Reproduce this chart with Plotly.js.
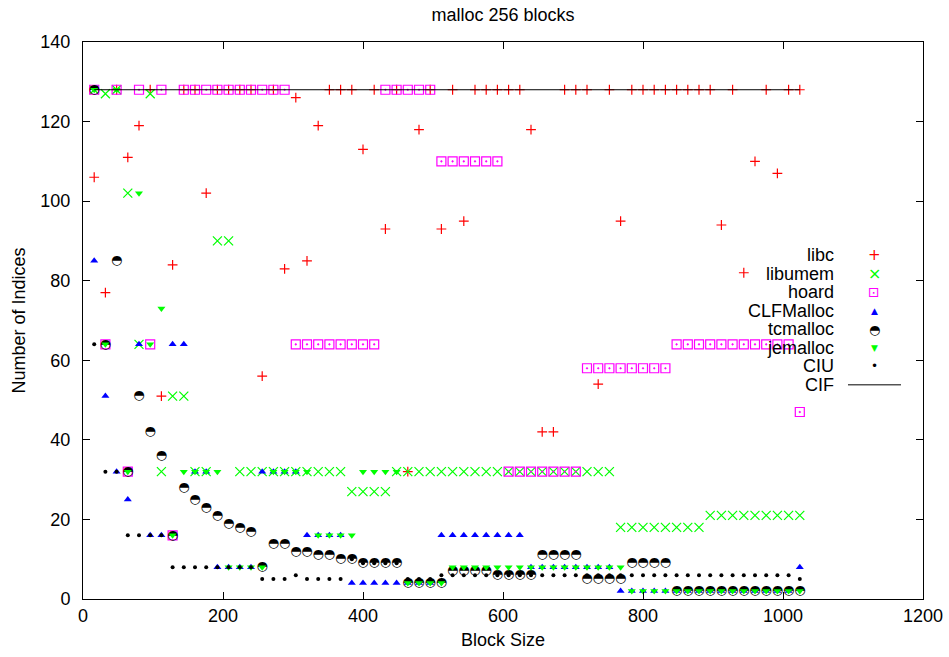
<!DOCTYPE html>
<html><head><meta charset="utf-8">
<script src="https://cdn.plot.ly/plotly-3.0.1.min.js"></script>
<style>html,body{margin:0;padding:0;background:#fff}#chart{width:949px;height:657px}</style>
</head><body><div id="chart"></div>
<script>
// Block sizes (bytes)
const blockSize = [16,32,48,64,80,96,112,128,144,160,176,192,208,224,240,256,
  272,288,304,320,336,352,368,384,400,416,432,448,464,480,496,512,
  528,544,560,576,592,608,624,640,656,672,688,704,720,736,752,768,
  784,800,816,832,848,864,880,896,912,928,944,960,976,992,1008,1024];

const libc = [106,77,128,111,119,128,51,84,128,128, 102,128,128,128,128,56,128,83,126,85,
  119,128,128,128,113,128,93,128,32,118, 128,93,128,95,128,128,128,128,128,118,
  42,42,128,128,128,54,128,95,128,128, 128,128,128,128,128,128,94,128,82,110,
  128,107,128,128];

const libumem = [128,127,128,102,64,127,32,51,51,32, 32,90,90,32,32,32,32,32,32,32,
  32,32,32,27,27,27,27,32,32,32, 32,32,32,32,32,32,32,32,32,32,
  32,32,32,32,32,32,32,18,18,18, 18,18,18,18,18,21,21,21,21,21,
  21,21,21,21];

const hoard = [128,64,128,32,128,64,128,16,128,128, 128,128,128,128,128,128,128,128,64,64,
  64,64,64,64,64,64,128,128,128,128, 128,110,110,110,110,110,110,32,32,32,
  32,32,32,32,58,58,58,58,58,58, 58,58,64,64,64,64,64,64,64,64,
  64,64,64,47];

const clfmalloc = [85,51,32,25,64,16,16,64,64,32, 32,8,8,8,8,32,32,32,32,16,
  16,16,16,4,4,4,4,4,4,4, 4,16,16,16,16,16,16,16,16,8,
  8,8,8,8,8,8,8,2,2,2, 2,2,2,2,2,2,2,2,2,2,
  2,2,2,8];

const tcmalloc = [128,64,85,32,51,42,36,16,28,25, 23,21,19,18,17,8,14,14,12,12,
  11,11,10,10,9,9,9,9,4,4, 4,4,7,7,7,7,6,6,6,6,
  11,11,11,11,5,5,5,5,9,9, 9,9,2,2,2,2,2,2,2,2,
  2,2,2,2];

const jemalloc = [128,64,128,32,102,64,73,16,32,32, 32,32,8,8,8,8,32,32,32,32,
  16,16,16,16,32,32,32,32,4,4, 4,4,8,8,8,8,8,8,8,8,
  8,8,8,8,8,8,8,8,2,2, 2,2,2,2,2,2,2,2,2,2,
  2,2,2,2];

const ciu = [64,32,32,16,16,16,16,8,8,8, 8,8,8,8,8,5,5,5,6,5,
  5,5,5,10,9,9,9,9,5,5, 5,6,6,6,6,6,6,6,6,6,
  6,6,6,6,6,6,6,6,6,6, 6,6,6,6,6,6,6,6,6,6,
  6,6,6,5];

const cif = [128,128,128,128,128,128,128,128,128,128,128,128,128,128,128,128,
  128,128,128,128,128,128,128,128,128,128,128,128,128,128,128,128,
  128,128,128,128,128,128,128,128,128,128,128,128,128,128,128,128,
  128,128,128,128,128,128,128,128,128,128,128,128,128,128,128,128];

const seriesNames = ['libc','libumem','hoard','CLFMalloc','tcmalloc','jemalloc','CIU','CIF'];

const FONT = '"Liberation Sans", Arial, Helvetica, sans-serif';
const RED = '#ff0000', GREEN = '#00ff00', MAG = '#ff00ff', BLUE = '#0000ff', BLK = '#000000';

const traces = [
  {name:'libc', x:blockSize, y:libc, type:'scatter', mode:'markers',
   marker:{symbol:'cross-thin-open', size:7, color:RED, line:{color:RED, width:1.2}}},
  {name:'libumem', x:blockSize, y:libumem, type:'scatter', mode:'markers',
   marker:{symbol:'x-thin-open', size:9, color:GREEN, line:{color:GREEN, width:1.2}}},
  {name:'hoard', x:blockSize, y:hoard, type:'scatter', mode:'markers',
   marker:{symbol:'square-open-dot', size:9, color:MAG, line:{color:MAG, width:1.2}}},
  {name:'CLFMalloc', x:blockSize, y:clfmalloc, type:'scatter', mode:'markers',
   marker:{symbol:'triangle-up', size:7, color:BLUE, line:{width:0}}},
  {name:'tcmalloc', x:blockSize, y:tcmalloc, type:'scatter', mode:'text',
   text:blockSize.map(() => '\u25D3'), textposition:'middle center',
   textfont:{family:'DejaVu Sans', size:13, color:BLK}},
  {name:'jemalloc', x:blockSize, y:jemalloc, type:'scatter', mode:'markers',
   marker:{symbol:'triangle-down', size:7, color:GREEN, line:{width:0}}},
  {name:'CIU', x:blockSize, y:ciu, type:'scatter', mode:'markers',
   marker:{symbol:'circle', size:4, color:BLK, line:{width:0}}},
  {name:'CIF', x:blockSize, y:cif, type:'scatter', mode:'lines',
   line:{color:BLK, width:1}}
];

// Legend drawn gnuplot-style: right-aligned labels, sample to the right
const legendGlyphs = [
  {t:'+', c:RED, f:'DejaVu Sans', s:15},
  {t:'\u00D7', c:GREEN, f:'DejaVu Sans', s:16},
  {t:'\u22A1', c:MAG, f:'DejaVu Sans', s:14},
  {t:'\u25B2', c:BLUE, f:'DejaVu Sans', s:9},
  {t:'\u25D3', c:BLK, f:'DejaVu Sans', s:13},
  {t:'\u25BC', c:GREEN, f:'DejaVu Sans', s:9},
  {t:'\u2022', c:BLK, f:'DejaVu Sans', s:12},
  null
];
const legTop = 0.6176, legStep = 0.0333;
const annotations = [];
const shapes = [];
seriesNames.forEach((n, i) => {
  const yy = legTop - i * legStep;
  annotations.push({xref:'paper', yref:'paper', x:0.8964, y:yy, xanchor:'right', yanchor:'middle',
    text:n, showarrow:false, font:{family:FONT, size:18, color:BLK}});
  const g = legendGlyphs[i];
  if (g) {
    annotations.push({xref:'paper', yref:'paper', x:0.9417, y:yy, xanchor:'center', yanchor:'middle',
      text:g.t, showarrow:false, font:{family:g.f, size:g.s, color:g.c}});
  } else {
    shapes.push({type:'line', xref:'paper', yref:'paper', x0:0.9107, x1:0.9738, y0:yy, y1:yy,
      line:{color:BLK, width:1}});
  }
});

const axisCommon = {
  ticks:'inside', ticklen:7, tickwidth:1, tickcolor:BLK,
  showline:true, linecolor:BLK, linewidth:1, mirror:'ticks',
  showgrid:false, zeroline:false, tickfont:{family:FONT, size:18, color:BLK}
};

const layout = {
  width:949, height:657,
  margin:{l:83, r:26, t:42, b:58},
  paper_bgcolor:'#ffffff', plot_bgcolor:'#ffffff',
  font:{family:FONT, size:18, color:BLK},
  showlegend:false,
  title:{text:'malloc 256 blocks', font:{family:FONT, size:18, color:BLK},
    x:0.5, xref:'paper', xanchor:'center', y:0.977, yref:'container', yanchor:'middle'},
  xaxis:Object.assign({}, axisCommon, {range:[0,1200], tick0:0, dtick:200,
    title:{text:'Block Size', font:{family:FONT, size:18, color:BLK}, standoff:8}}),
  yaxis:Object.assign({}, axisCommon, {range:[0,140], tick0:0, dtick:20, ticklabelstandoff:8,
    title:{text:'Number of Indices', font:{family:FONT, size:18, color:BLK}, standoff:10}}),
  annotations:annotations,
  shapes:shapes
};

Plotly.newPlot('chart', traces, layout, {displayModeBar:false, staticPlot:true});
</script>
</body></html>
